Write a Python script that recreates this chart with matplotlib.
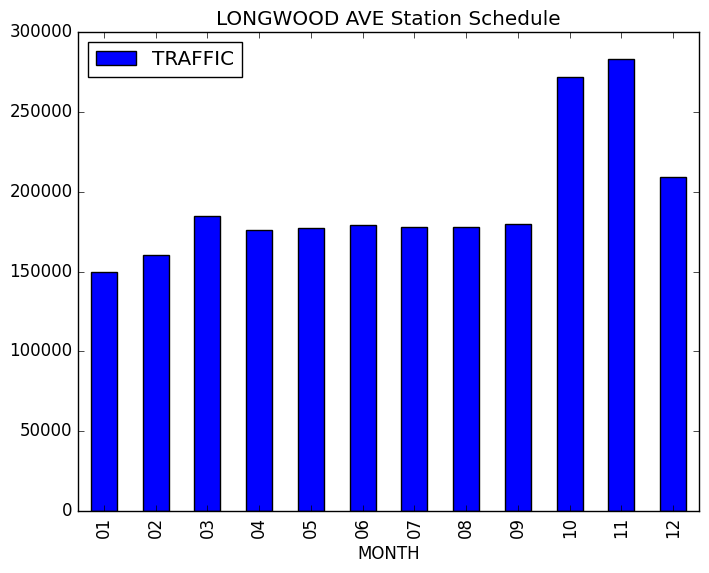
import numpy as np
import matplotlib
matplotlib.use("Agg")
import matplotlib.pyplot as plt

plt.style.use("classic")

months = ["01", "02", "03", "04", "05", "06", "07", "08", "09", "10", "11", "12"]
traffic = [149700, 160300, 184900, 176000, 177000, 179100,
           177900, 177900, 179500, 271800, 283100, 209400]

fig = plt.figure(figsize=(7.09, 5.73), dpi=100)
ax = fig.add_axes([0.110, 0.108, 0.876, 0.836])

x = np.arange(len(months))
ax.bar(x, traffic, width=0.5, color="b", edgecolor="k", align="center", label="TRAFFIC")
ax.set_xlim(-0.5, len(months) - 0.5)
ax.set_ylim(0, 300000)
ax.set_xticks(x)
ax.set_xticklabels(months, rotation=90)
ax.set_xlabel("MONTH")
ax.set_title("LONGWOOD AVE Station Schedule")
ax.legend(loc="upper left")

fig.savefig("out.png", dpi=100)
